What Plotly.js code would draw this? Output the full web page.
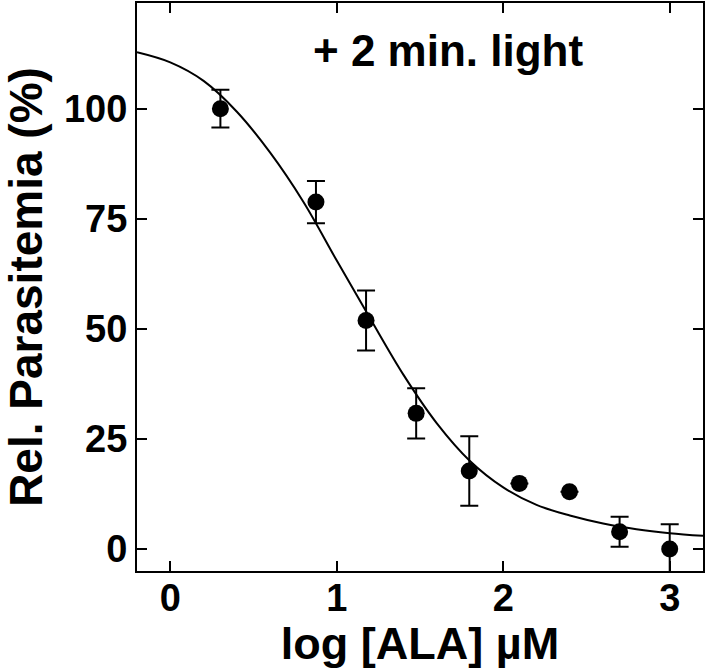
<!DOCTYPE html>
<html>
<head>
<meta charset="utf-8">
<script src="https://cdn.plot.ly/plotly-3.0.1.min.js"></script>
<style>html,body{margin:0;padding:0;background:#fff;}#chart{width:708px;height:669px;}</style>
</head>
<body>
<div id="chart"></div>
<script>
// Measured data: log concentration of ALA (µM) vs relative parasitemia (%)
var logALA = [0.301, 0.875, 1.176, 1.477, 1.796, 2.097, 2.398, 2.699, 3.0];
var parasitemia = [100, 78.8, 51.9, 30.8, 17.7, 14.9, 13.0, 3.9, 0];
var errorBars = [4.3, 4.8, 6.8, 5.7, 7.9, null, null, 3.4, 5.6];

// Fitted dose-response curve
var curveX = [-0.2, 0, 0.2, 0.4, 0.6, 0.8, 1.0, 1.2, 1.4, 1.6, 1.8, 2.0, 2.2, 2.4, 2.6, 2.8, 3.0, 3.2];
var curveY = [112.8, 110.5, 106.3, 99.3, 90.0, 78.8, 65.5, 52.4, 39.6, 28.6, 20.0, 14.0, 10.0, 7.6, 5.8, 4.5, 3.6, 3.0];

var xTicks = [0, 1, 2, 3];
var yTicks = [0, 25, 50, 75, 100];

var FONT = 'Liberation Sans, Arial, Helvetica, sans-serif';

var traces = [
  {
    x: curveX, y: curveY, type: 'scatter', mode: 'lines',
    line: {color: '#000', width: 2, shape: 'spline'},
    hoverinfo: 'skip', showlegend: false
  },
  {
    x: logALA, y: parasitemia, type: 'scatter', mode: 'markers',
    marker: {color: '#000', size: 17, symbol: 'circle'},
    error_y: {type: 'data', array: errorBars, visible: true, color: '#000', thickness: 2, width: 9},
    showlegend: false
  }
];

var axisCommon = {
  showline: true, linecolor: '#000', linewidth: 2, mirror: 'ticks',
  ticks: 'inside', ticklen: 10, tickwidth: 2, tickcolor: '#000',
  showgrid: false, zeroline: false,
  tickfont: {family: FONT, size: 38, color: '#000', weight: 'bold'}
};

var layout = {
  width: 708, height: 669,
  margin: {l: 137, r: 5, t: 3, b: 98},
  paper_bgcolor: '#fff', plot_bgcolor: '#fff',
  xaxis: Object.assign({}, axisCommon, {
    range: [-0.2, 3.2], tickvals: xTicks, ticktext: xTicks.map(String),
    ticklabelstandoff: -8,
    title: {text: 'log [ALA] µM', font: {family: FONT, size: 45, color: '#000', weight: 'bold'}, standoff: 10}
  }),
  yaxis: Object.assign({}, axisCommon, {
    range: [-5, 124], tickvals: yTicks, ticktext: yTicks.map(String),
    title: {text: 'Rel. Parasitemia (%)', font: {family: FONT, size: 46, color: '#000', weight: 'bold'}, standoff: 12}
  }),
  annotations: [{
    text: '+ 2 min. light', xref: 'paper', yref: 'paper',
    x: 0.5495, y: 0.9155, xanchor: 'center', yanchor: 'middle', showarrow: false,
    font: {family: FONT, size: 44, color: '#000', weight: 'bold'}
  }]
};

Plotly.newPlot('chart', traces, layout, {displayModeBar: false, staticPlot: true});
</script>
</body>
</html>
